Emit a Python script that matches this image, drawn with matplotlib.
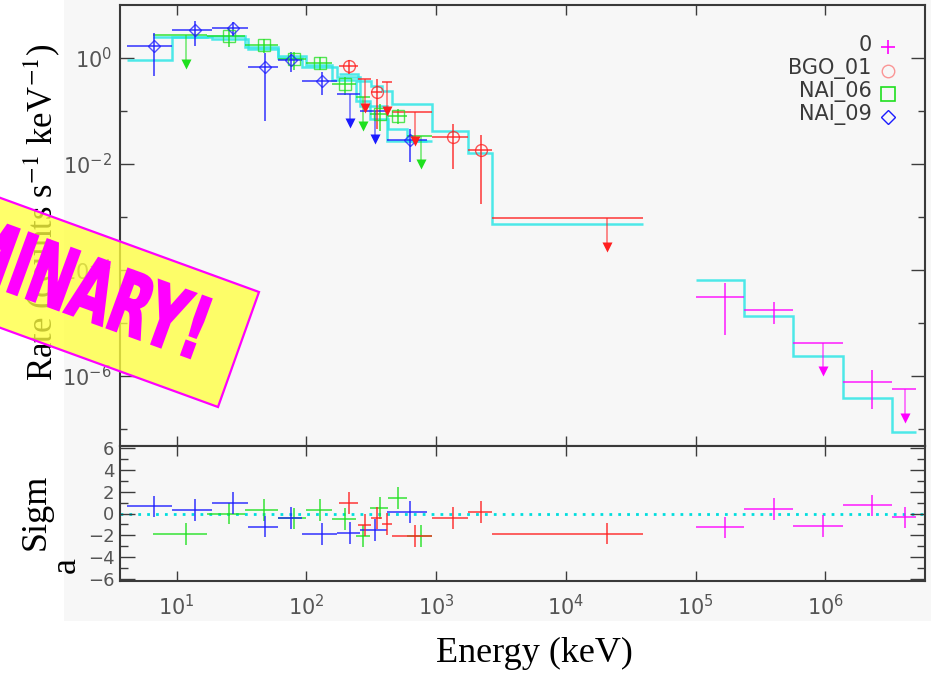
import numpy as np
import matplotlib
matplotlib.use("Agg")
import matplotlib.pyplot as plt
from matplotlib.patches import Polygon, Rectangle, PathPatch
from matplotlib.textpath import TextPath
from matplotlib.font_manager import FontProperties
from matplotlib.transforms import Affine2D
from matplotlib.ticker import FixedLocator, NullLocator, NullFormatter

# ---------------- spectral data (counts s^-1 keV^-1) ----------------
# NAI_09
n9_edges = [4.12, 9.15, 18.6, 35.3, 60.7, 92.0, 171, 259, 416, 846]
n9_rate = [1.70, 3.37, 3.67, 0.665, 0.917, 0.374, 0.21, 0.102, 0.0286]
n9_err = [1.25, 1.7, 1.1, 0.6, 0.38, 0.17, 0.0, 0.0, 0.0177]
n9_ul = [False, False, False, False, False, False, True, True, False]
n9_model = [0.929, 2.52, 2.31, 1.50, 1.01, 0.686, 0.444, 0.126, 0.0277]
n9_resid = [0.65, 0.35, 0.95, -1.2, -0.4, -1.85, -1.8, -1.5, 0.15]

# NAI_06
n6_edges = [6.57, 17.0, 33.6, 60.4, 99.3, 157, 241, 309, 426, 593, 929]
n6_rate = [2.75, 2.63, 1.78, 0.957, 0.816, 0.324, 0.181, 0.0882, 0.0819, 0.0344]
n6_err = [0.0, 1.05, 0.52, 0.35, 0.22, 0.12, 0.0, 0.047, 0.025, 0.0]
n6_ul = [True, False, False, False, False, False, True, False, False, True]
n6_model = [2.52, 2.63, 1.63, 1.105, 0.748, 0.390, 0.157, 0.0719, 0.0466, 0.0277]
n6_resid = [-1.9, 0.0, 0.35, -0.45, 0.35, -0.5, -2.1, 0.5, 1.4, -2.1]

# BGO_01
b1_edges = [178, 250, 315, 383, 455, 925, 1771, 2684, 39170]
b1_rate = [0.716, 0.402, 0.225, 0.358, 0.0945, 0.033, 0.01876, 0.000953]
b1_err = [0.22, 0.0, 0.18, 0.0, 0.0, 0.025, 0.017, 0.0]
b1_ul = [False, True, False, True, True, False, False, True]
b1_model = [0.495, 0.374, 0.302, 0.243, 0.138, 0.0428, 0.0165, 0.000726]
b1_resid = [0.98, -1.04, -0.44, -0.95, -2.08, -0.39, 0.14, -1.84]

# 0 (high-energy data set)
h0_edges = [1.0e5, 2.37e5, 5.68e5, 1.365e6, 3.26e6, 5.0e6]
h0_rate = [3.10e-5, 1.74e-5, 4.30e-6, 7.68e-7, 5.67e-7]
h0_err = [2.5e-5, 7.7e-6, 0.0, 5.3e-7, 0.0]
h0_ul = [False, False, True, False, True]
h0_model = [6.40e-5, 1.34e-5, 2.37e-6, 3.79e-7, 8.67e-8]
h0_resid = [-1.28, 0.44, -1.13, 0.74, -0.36]

legend_names = ["0", "BGO_01", "NAI_06", "NAI_09"]
x_ticks = [1e1, 1e2, 1e3, 1e4, 1e5, 1e6]
y_major = [1e0, 1e-2, 1e-4, 1e-6]
y_minor = [1e-1, 1e-3, 1e-5, 1e-7]
r_major = [-6, -4, -2, 0, 2, 4, 6]
r_minor = [-5, -3, -1, 1, 3, 5]

# ---------------- styling ----------------
W, H = 934, 674
BG = "#f7f7f7"
MODEL_C = "#2fe6e6"
C_BLUE, C_GREEN, C_RED, C_MAG = "#1a1aff", "#1ee01e", "#ff1f1f", "#ff00ff"
ARROW = 3.5          # length of upper-limit arrows (factor in rate)
TICK_C = "#3c3c3c"
LABEL_C = "#555555"

fig = plt.figure(figsize=(W / 100, H / 100), dpi=100)
fig.patch.set_facecolor("white")
px = Affine2D().scale(1 / 100) + fig.dpi_scale_trans   # pixel units, origin bottom-left

# grey plotting page behind both panels
fig.add_artist(Rectangle((64, H - 621), 931 - 64, 621, transform=px,
                         facecolor=BG, edgecolor="none", zorder=-5))

ax = fig.add_axes([120 / W, (H - 446) / H, 805 / W, 441 / H])
axr = fig.add_axes([120 / W, (H - 581) / H, 805 / W, 135 / H], sharex=ax)
for a in (ax, axr):
    a.set_facecolor(BG)
    for s in a.spines.values():
        s.set_color("#3a3a3a")
        s.set_linewidth(1.5)

ax.set_xscale("log")
ax.set_yscale("log")
ax.set_xlim(3.65, 5.88e6)
ax.set_ylim(4.8e-8, 10.0)
axr.set_ylim(-6.2, 6.2)


def draw_set(edges, rate, err, ul, model, resid, color, marker=None, ms=8):
    edges = np.asarray(edges, float)
    lo, hi = edges[:-1], edges[1:]
    ctr = 0.5 * (lo + hi)
    ax.stairs(model, edges, baseline=None, color=MODEL_C, lw=1.8, alpha=0.85, zorder=2)
    for i in range(len(rate)):
        ax.hlines(rate[i], lo[i], hi[i], color=color, lw=1.4, alpha=0.7, zorder=3)
        if ul[i]:
            tip = rate[i] / ARROW
            ax.vlines(ctr[i], tip, rate[i], color=color, lw=1.2, alpha=0.6, zorder=3)
            ax.plot([ctr[i]], [tip], marker="v", color=color, ms=7, mec="none", zorder=4)
        else:
            ax.vlines(ctr[i], rate[i] - err[i], rate[i] + err[i], color=color,
                      lw=1.4, alpha=0.7, zorder=3)
            if marker is not None:
                ax.plot([ctr[i]], [rate[i]], marker=marker, ms=ms, mfc="none",
                        mec=color, mew=1.0, alpha=0.75, zorder=4)
        axr.hlines(resid[i], lo[i], hi[i], color=color, lw=1.4, alpha=0.7, zorder=3)
        axr.vlines(ctr[i], resid[i] - 1, resid[i] + 1, color=color, lw=1.4, alpha=0.7, zorder=3)


draw_set(n6_edges, n6_rate, n6_err, n6_ul, n6_model, n6_resid, C_GREEN, "s", 9)
draw_set(n9_edges, n9_rate, n9_err, n9_ul, n9_model, n9_resid, C_BLUE, "D", 6.5)
draw_set(b1_edges, b1_rate, b1_err, b1_ul, b1_model, b1_resid, C_RED, "o", 8.5)
draw_set(h0_edges, h0_rate, h0_err, h0_ul, h0_model, h0_resid, C_MAG, None)

axr.axhline(0, color="#00dede", ls=(0, (1, 2.2)), lw=2, zorder=1)

# ---------------- ticks ----------------
ax.xaxis.set_major_locator(FixedLocator(x_ticks))
ax.xaxis.set_minor_locator(NullLocator())
ax.yaxis.set_major_locator(FixedLocator(y_major))
ax.yaxis.set_minor_locator(FixedLocator(y_minor))
ax.yaxis.set_minor_formatter(NullFormatter())
ax.tick_params(axis="both", which="both", direction="in", top=True, right=True,
               color=TICK_C, labelcolor=LABEL_C, width=1.0)
ax.tick_params(axis="x", which="major", length=7.5, labelbottom=False)
ax.tick_params(axis="y", which="major", length=10, labelsize=15, pad=6)
ax.tick_params(axis="y", which="minor", length=5)

axr.yaxis.set_major_locator(FixedLocator(r_major))
axr.yaxis.set_minor_locator(FixedLocator(r_minor))
axr.yaxis.set_minor_formatter(NullFormatter())
axr.tick_params(axis="both", which="both", direction="in", top=True, right=True,
                color=TICK_C, labelcolor=LABEL_C, width=1.0)
axr.tick_params(axis="x", which="major", length=7.5, labelsize=15, pad=9)
axr.tick_params(axis="y", which="major", length=11, labelsize=13, pad=4)
axr.tick_params(axis="y", which="minor", length=6)

# ---------------- legend ----------------
leg_y_text = [0.909, 0.857, 0.803, 0.751]
leg_y_mark = [0.905, 0.851, 0.799, 0.746]
leg_style = [dict(marker="+", color=C_MAG, ms=10, mew=1.2),
             dict(marker="o", mfc="none", mec=C_RED, ms=9, mew=1.0, alpha=0.45),
             dict(marker="s", mfc="none", mec=C_GREEN, ms=9.5, mew=1.2),
             dict(marker="D", mfc="none", mec=C_BLUE, ms=7, mew=1.0)]
for name, yt, ym, st in zip(legend_names, leg_y_text, leg_y_mark, leg_style):
    ax.text(0.934, yt, name, transform=ax.transAxes, ha="right", va="center",
            fontsize=15, color="#3a3a3a")
    ax.plot([0.954], [ym], transform=ax.transAxes, ls="none", **st)

# ---------------- axis titles ----------------
serif = dict(family="Liberation Serif", math_fontfamily="stix", color="black")
fig.text(42 / W, 1 - 212 / H, r"Rate (counts s$^{-1}$ keV$^{-1}$)", rotation=90,
         ha="center", va="center", fontsize=25, **serif)
fig.text(534 / W, 1 - 653 / H, "Energy (keV)", ha="center", va="center",
         fontsize=26, **serif)
fig.text(36 / W, 1 - 512 / H, "Sigm", rotation=90, ha="center", va="center",
         fontsize=26, **serif)
fig.text(66 / W, 1 - 565 / H, "a", rotation=90, ha="center", va="center",
         fontsize=26, **serif)

# ---------------- PRELIMINARY banner ----------------
banner = Polygon([(-211, H - 121), (259, H - 292), (218, H - 407), (-252, H - 236)],
                 closed=True, transform=px, facecolor=(1.0, 1.0, 0.25, 0.78),
                 edgecolor="#ff00ff", lw=1.6, zorder=10)
fig.add_artist(banner)
tp = TextPath((0, 0), "PRELIMINARY!", size=86,
              prop=FontProperties(family="DejaVu Sans", weight="bold"))
bb = tp.get_extents()
tr = (Affine2D().translate(-bb.x1, 0).scale(0.62, 1.0).rotate_deg(-20)
      .translate(190, H - 358) + px)
fig.add_artist(PathPatch(tp, transform=tr, facecolor="#ff00ff", edgecolor="#ff00ff",
                         lw=1.5, zorder=11))

fig.savefig("out.png", dpi=100, facecolor="white")
